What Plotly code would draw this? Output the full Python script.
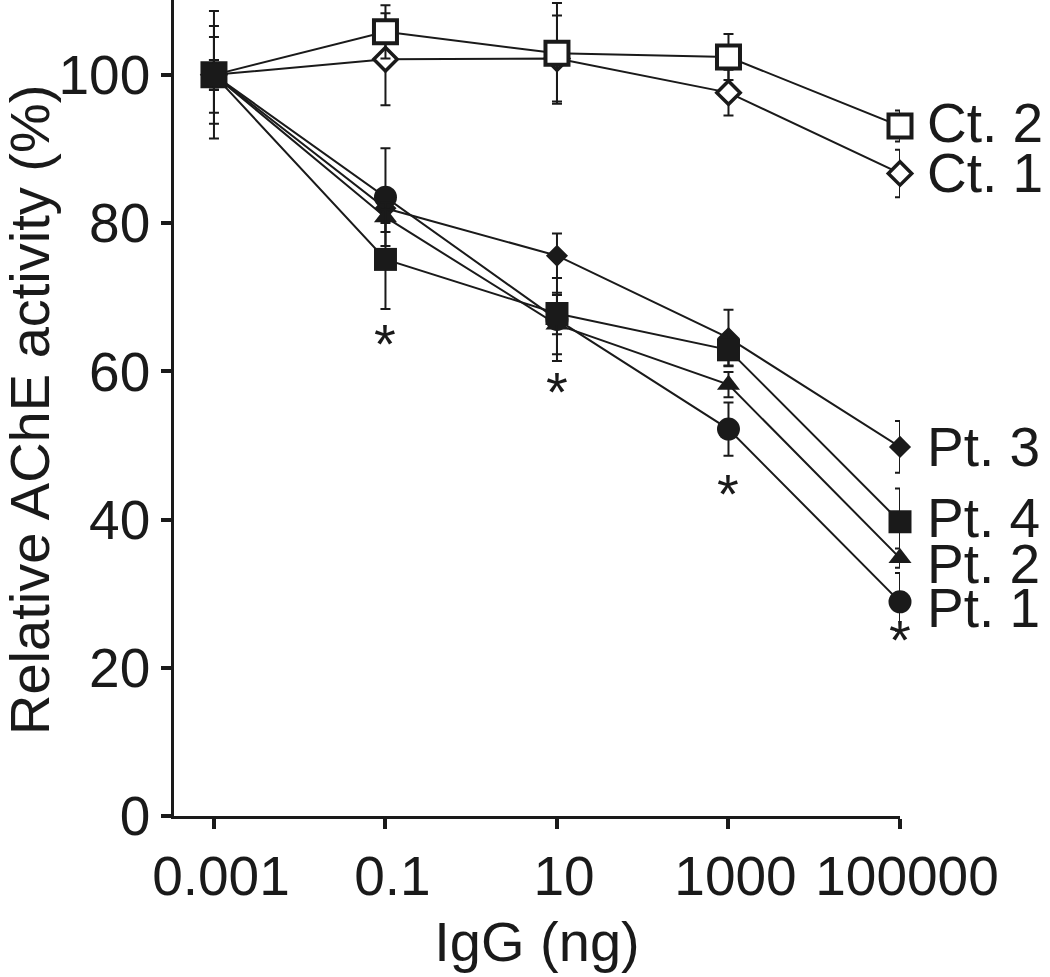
import math
import plotly.graph_objects as go

# ---- data ----
doses = [0.001, 0.1, 10, 1000, 100000]
dose_labels = ["0.001", "0.1", "10", "1000", "100000"]

ct1 = [100, 102.1, 102.2, 97.6, 86.7]
ct1_err = [5.1, 6.2, 5.8, 3.1, 3.2]
ct2 = [100, 105.8, 102.9, 102.4, 93.1]
ct2_err = [8.6, 3.6, 6.8, 3.1, 2.1]
pt1 = [100, 83.5, 67.0, 52.2, 28.9]
pt1_err = [6.6, 6.6, 5.6, 3.6, 3.9]
pt2 = [100, 80.8, 66.3, 58.2, 34.8]
pt2_err = [2.0, 2.0, 4.0, 1.7, 1.3]
pt3 = [100, 82.0, 75.6, 64.5, 49.8]
pt3_err = [2.0, 2.0, 3.0, 3.8, 3.5]
pt4 = [100, 75.1, 67.8, 62.9, 39.7]
pt4_err = [2.0, 6.7, 2.8, 2.1, 4.5]

star_doses = [0.1, 10, 1000, 100000]
star_values = [64.7, 58.2, 44.4, 24.8]

series_names = ["Ct. 1", "Ct. 2", "Pt. 3", "Pt. 1", "Pt. 2", "Pt. 4"]

FONT = "Liberation Sans, Arial, sans-serif"
INK = "#1a1a1a"

styles = {
    "Ct. 1": dict(symbol="diamond", open=True, size=18, lw=3.5),
    "Ct. 2": dict(symbol="square", open=True, size=23, lw=4),
    "Pt. 3": dict(symbol="diamond", open=False, size=17, lw=0),
    "Pt. 1": dict(symbol="circle", open=False, size=23, lw=0),
    "Pt. 2": dict(symbol="triangle-up", open=False, size=20, lw=0),
    "Pt. 4": dict(symbol="square", open=False, size=23, lw=0),
}
values = {"Ct. 1": (ct1, ct1_err), "Ct. 2": (ct2, ct2_err), "Pt. 1": (pt1, pt1_err),
          "Pt. 2": (pt2, pt2_err), "Pt. 3": (pt3, pt3_err), "Pt. 4": (pt4, pt4_err)}

fig = go.Figure()
for name in series_names:
    y, e = values[name]
    s = styles[name]
    fig.add_trace(go.Scatter(
        x=doses, y=y, mode="lines+markers", name=name,
        line=dict(color=INK, width=2),
        marker=dict(symbol=s["symbol"], size=s["size"],
                    color="white" if s["open"] else INK,
                    line=dict(width=s["lw"], color=INK)),
        error_y=dict(type="data", array=e, visible=True, color=INK, thickness=2, width=5),
        cliponaxis=False, showlegend=False,
    ))

# series labels at the right end of each line
label_offsets = {"Ct. 2": 0.4, "Ct. 1": 0.1, "Pt. 3": 0.0, "Pt. 4": 0.5, "Pt. 2": -0.8, "Pt. 1": -0.9}
for name in series_names:
    y, _ = values[name]
    fig.add_annotation(x=math.log10(doses[-1]), y=y[-1] + label_offsets[name], xref="x", yref="y",
                       text=name, showarrow=False, xanchor="left", yanchor="middle",
                       xshift=25, font=dict(family=FONT, size=55, color=INK))

for xd, yv in zip(star_doses, star_values):
    fig.add_annotation(x=math.log10(xd), y=yv, xref="x", yref="y", text="*",
                       showarrow=False, xanchor="center", yanchor="middle", yshift=-7,
                       font=dict(family=FONT, size=56, color=INK))

# y-axis title as rotated annotation
fig.add_annotation(x=(29 - 174) / 726, y=(816 - 410) / 816, xref="paper", yref="paper",
                   text="Relative AChE activity (%)", textangle=-90, showarrow=False,
                   xanchor="center", yanchor="middle",
                   font=dict(family=FONT, size=56, color=INK))

fig.update_xaxes(
    type="log", range=[-3.466, 5.0], automargin=False,
    tickvals=doses, ticktext=dose_labels, ticklabelshift=7,
    showline=True, linecolor=INK, linewidth=2.5,
    ticks="outside", ticklen=10, tickwidth=3.5, tickcolor=INK,
    showgrid=False, zeroline=False,
    tickfont=dict(family=FONT, size=55, color=INK),
    title=dict(text="IgG (ng)", font=dict(family=FONT, size=56, color=INK), standoff=17),
)
fig.update_yaxes(
    range=[0, 110.1], tickvals=[0, 20, 40, 60, 80, 100], automargin=False,
    showline=True, linecolor=INK, linewidth=2.5,
    ticks="outside", ticklen=10, tickwidth=4, tickcolor=INK,
    showgrid=False, zeroline=False,
    tickfont=dict(family=FONT, size=55, color=INK),
)
fig.update_layout(
    width=1050, height=977,
    margin=dict(l=174, r=150, t=0, b=161),
    plot_bgcolor="white", paper_bgcolor="white",
)
fig.write_html("out.html", config={"displayModeBar": False},
               post_script="document.body.style.margin='0';")
